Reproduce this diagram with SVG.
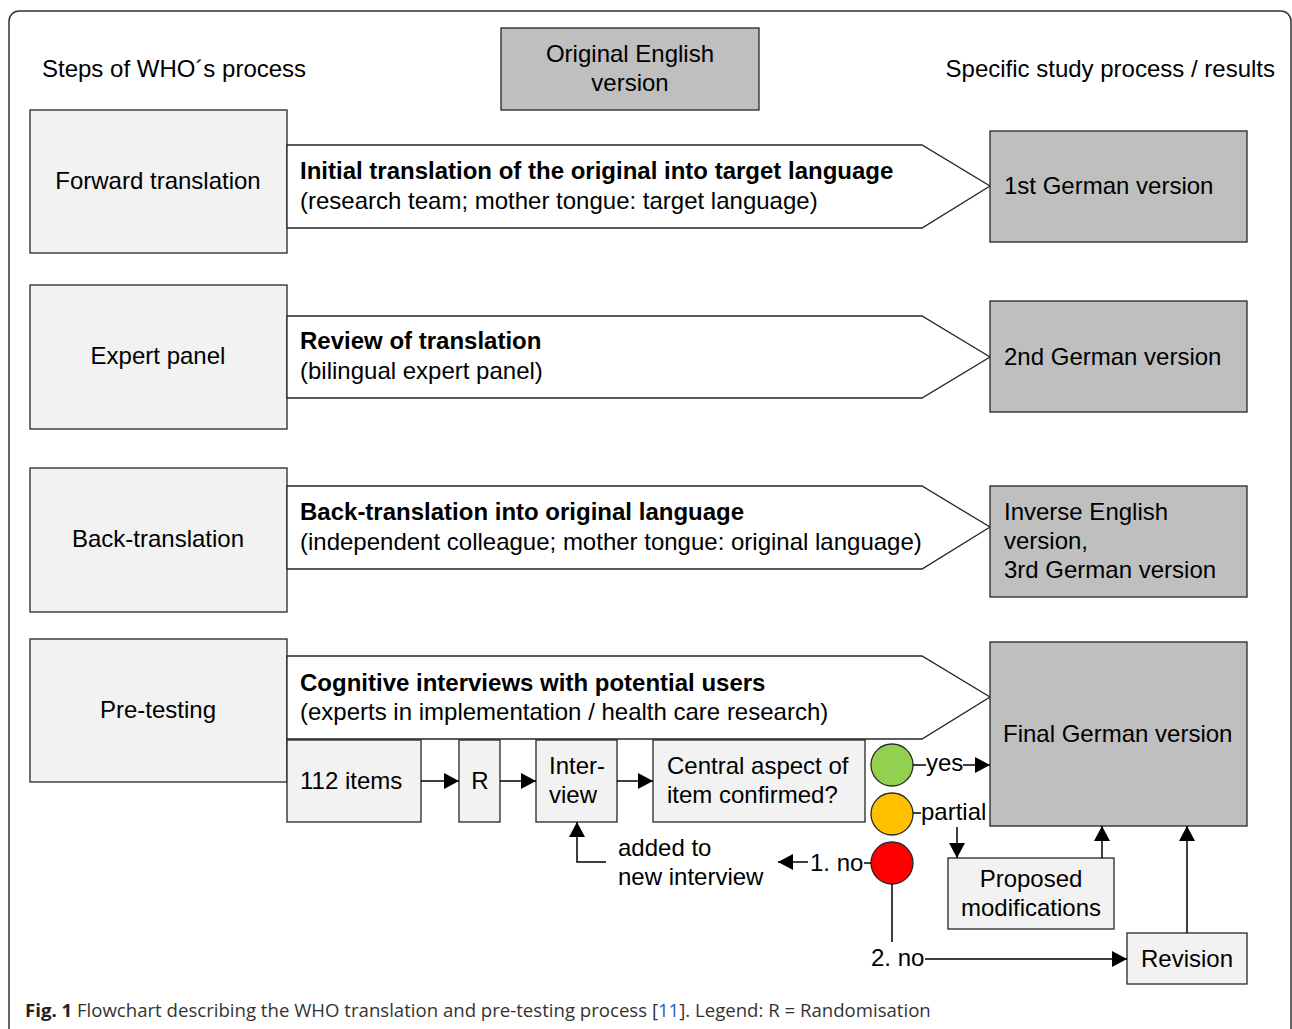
<svg xmlns="http://www.w3.org/2000/svg" width="1292" height="1029" viewBox="0 0 1292 1029">
<style>
text{font-family:"Liberation Sans",Arial,sans-serif;font-size:24px;fill:#000}
.b{font-weight:bold}
.box{fill:#f2f2f2;stroke:#262626;stroke-width:1.3}
.dark{fill:#bfbfbf;stroke:#262626;stroke-width:1.3}
.arr{fill:#fff;stroke:#262626;stroke-width:1.3}
.ln{fill:none;stroke:#000;stroke-width:1.5}
.c{text-anchor:middle}
.cap{font-family:"Open Sans","Noto Sans",sans-serif;font-size:18.6px;fill:#333}
</style>
<defs>
<marker id="ah" markerUnits="userSpaceOnUse" markerWidth="15" markerHeight="16" viewBox="0 0 15 16" refX="15" refY="8" orient="auto">
<path d="M0,0 L15,8 L0,16 Z" fill="#000"/>
</marker>
</defs>
<rect x="9" y="11" width="1282" height="1040" rx="10" fill="#fff" stroke="#333" stroke-width="1.5"/>
<text x="42" y="77">Steps of WHO´s process</text>
<text x="1275" y="77" text-anchor="end">Specific study process / results</text>

<g id="orig"><rect class="dark" x="501" y="28" width="258" height="82"/><text class="c" x="630" y="62">Original English</text><text class="c" x="630" y="91">version</text></g>

<g id="step1"><rect class="box" x="30" y="110" width="257" height="143"/><text class="c" x="158" y="189">Forward translation</text></g>
<g id="step2"><rect class="box" x="30" y="285" width="257" height="144"/><text class="c" x="158" y="364">Expert panel</text></g>
<g id="step3"><rect class="box" x="30" y="468" width="257" height="144"/><text class="c" x="158" y="547">Back-translation</text></g>
<g id="step4"><rect class="box" x="30" y="639" width="257" height="143"/><text class="c" x="158" y="718">Pre-testing</text></g>

<g id="proc1"><path class="arr" d="M287,145 H922 L990,186 L922,228 H287 Z"/><text class="b" x="300" y="179">Initial translation of the original into target language</text><text x="300" y="209">(research team; mother tongue: target language)</text></g>
<g id="proc2"><path class="arr" d="M287,316 H922 L990,357 L922,398 H287 Z"/><text class="b" x="300" y="349">Review of translation</text><text x="300" y="379">(bilingual expert panel)</text></g>
<g id="proc3"><path class="arr" d="M287,486 H922 L990,527 L922,569 H287 Z"/><text class="b" x="300" y="520">Back-translation into original language</text><text x="300" y="550">(independent colleague; mother tongue: original language)</text></g>
<g id="proc4"><path class="arr" d="M287,656 H922 L990,697 L922,739 H287 Z"/><text class="b" x="300" y="691">Cognitive interviews with potential users</text><text x="300" y="720">(experts in implementation / health care research)</text></g>

<g id="res1"><rect class="dark" x="990" y="131" width="257" height="111"/><text x="1004" y="194">1st German version</text></g>
<g id="res2"><rect class="dark" x="990" y="301" width="257" height="111"/><text x="1004" y="365">2nd German version</text></g>
<g id="res3"><rect class="dark" x="990" y="486" width="257" height="111"/><text x="1004" y="520">Inverse English</text><text x="1004" y="549">version,</text><text x="1004" y="578">3rd German version</text></g>
<g id="res4"><rect class="dark" x="990" y="642" width="257" height="184"/><text x="1003" y="742">Final German version</text></g>

<g id="items"><rect class="box" x="287" y="740" width="134" height="82"/><text x="300" y="789">112 items</text></g>
<g id="rand"><rect class="box" x="459" y="740" width="41" height="82"/><text class="c" x="480" y="789">R</text></g>
<g id="interview"><rect class="box" x="536" y="740" width="81" height="82"/><text x="549" y="774">Inter-</text><text x="549" y="803">view</text></g>
<g id="central"><rect class="box" x="653" y="740" width="212" height="82"/><text x="667" y="774">Central aspect of</text><text x="667" y="803">item confirmed?</text></g>
<g id="green"><circle cx="892" cy="765" r="21" fill="#92d050" stroke="#262626" stroke-width="1.3"/></g>
<g id="orange"><circle cx="892" cy="814" r="21" fill="#ffc000" stroke="#262626" stroke-width="1.3"/></g>
<g id="red"><circle cx="892" cy="863" r="21" fill="#ff0000" stroke="#262626" stroke-width="1.3"/></g>
<g id="proposed"><rect class="box" x="948" y="858" width="166" height="71"/><text class="c" x="1031" y="887">Proposed</text><text class="c" x="1031" y="916">modifications</text></g>
<g id="revision"><rect class="box" x="1127" y="933" width="120" height="51"/><text class="c" x="1187" y="967">Revision</text></g>

<g id="labels">
<text x="926" y="771">yes</text>
<text x="921" y="820">partial</text>
<text x="810" y="871">1. no</text>
<text x="618" y="856">added to</text>
<text x="618" y="885">new interview</text>
<text x="871" y="966">2. no</text>
</g>

<g id="connectors">
<line class="ln" x1="421" y1="781" x2="459" y2="781" marker-end="url(#ah)"/>
<line class="ln" x1="500" y1="781" x2="536" y2="781" marker-end="url(#ah)"/>
<line class="ln" x1="617" y1="781" x2="653" y2="781" marker-end="url(#ah)"/>
<line class="ln" x1="913" y1="765" x2="926" y2="765"/>
<line class="ln" x1="963" y1="765" x2="990" y2="765" marker-end="url(#ah)"/>
<line class="ln" x1="913" y1="813" x2="921" y2="813"/>
<line class="ln" x1="957" y1="827" x2="957" y2="858" marker-end="url(#ah)"/>
<line class="ln" x1="1102" y1="858" x2="1102" y2="826" marker-end="url(#ah)"/>
<line class="ln" x1="1187" y1="933" x2="1187" y2="826" marker-end="url(#ah)"/>
<line class="ln" x1="871" y1="863" x2="864" y2="863"/>
<line class="ln" x1="808" y1="862" x2="778" y2="862" marker-end="url(#ah)"/>
<polyline class="ln" points="606,862 577,862 577,822" marker-end="url(#ah)"/>
<line class="ln" x1="892" y1="884" x2="892" y2="942"/>
<line class="ln" x1="925" y1="959" x2="1127" y2="959" marker-end="url(#ah)"/>
</g>

<g id="caption">
<text class="cap" x="25" y="1017"><tspan font-weight="bold" style="fill:#222">Fig. 1</tspan> Flowchart describing the WHO translation and pre-testing process [<tspan style="fill:#3355cc">11</tspan>]. Legend: R = Randomisation</text>
</g>
</svg>
